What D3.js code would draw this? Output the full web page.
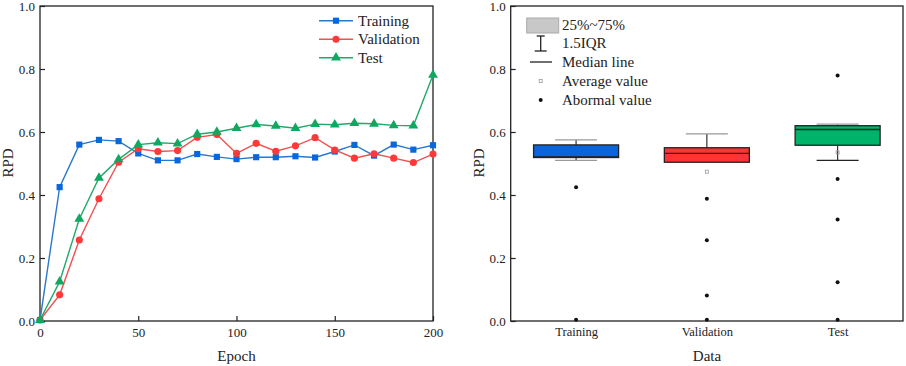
<!DOCTYPE html>
<html>
<head>
  <title>RPD training curves and box plot</title>
  <script src="https://d3js.org/d3.v7.min.js"></script>
  <style>
    body { margin: 0; background: #fff; }
    text { font-family: "Liberation Serif", "Times New Roman", serif; fill: #222; }
  </style>
</head>
<body>
  <svg id="chart"></svg>

  <script>
    // line chart data
    var epochs = [0, 10, 20, 30, 40, 50, 60, 70, 80, 90, 100, 110, 120, 130, 140, 150, 160, 170, 180, 190, 200];
    var training = [0.003, 0.425, 0.56, 0.575, 0.571, 0.532, 0.51, 0.51, 0.53, 0.521, 0.514, 0.52, 0.52, 0.523, 0.519, 0.538, 0.559, 0.525, 0.56, 0.544, 0.558];
    var validation = [0.003, 0.083, 0.257, 0.388, 0.504, 0.547, 0.538, 0.541, 0.583, 0.592, 0.532, 0.564, 0.539, 0.556, 0.582, 0.543, 0.517, 0.531, 0.517, 0.503, 0.53];
    var test = [0.003, 0.125, 0.324, 0.454, 0.513, 0.56, 0.566, 0.563, 0.593, 0.6, 0.612, 0.624, 0.619, 0.612, 0.625, 0.623, 0.628, 0.626, 0.621, 0.62, 0.781];
    var seriesNames = ["Training", "Validation", "Test"];
    var xTicks = [0, 50, 100, 150, 200];
    var yTicks = [0, 0.2, 0.4, 0.6, 0.8, 1.0];

    // box plot data
    var categories = ["Training", "Validation", "Test"];
    var q1s = [0.519, 0.504, 0.558];
    var medians = [0.521, 0.532, 0.608];
    var q3s = [0.559, 0.55, 0.62];
    var whiskerLows = [0.51, 0.504, 0.51];
    var whiskerHighs = [0.575, 0.594, 0.625];
    var means = [0.53, 0.474, 0.535];
    var outliers = [[0.425, 0.004], [0.388, 0.256, 0.081, 0.004], [0.779, 0.451, 0.322, 0.123, 0.004]];
    var legendLabels = ["25%~75%", "1.5IQR", "Median line", "Average value", "Abormal value"];

    var lineColors = ["#2a78cc", "#f0504f", "#1faa6c"];
    var markerColors = ["#0a66dd", "#ff3838", "#0fa860"];
    var boxColors = ["#0a64dc", "#ff3333", "#00b36a"];
    var serif = '"Liberation Serif", "Times New Roman", serif';

    var svg = d3.select("#chart")
      .attr("width", 906)
      .attr("height", 366);

    var yScale = d3.scaleLinear().domain([0, 1]).range([321, 6]);

    function styleAxis(g, size) {
      g.attr("font-family", serif);
      g.select(".domain").remove();
      g.selectAll("line").attr("stroke", "#222").attr("stroke-width", 1.2);
      g.selectAll("text")
        .style("font-family", serif)
        .style("font-size", size)
        .attr("fill", "#222");
    }

    // ---------- left panel ----------
    var xScale = d3.scaleLinear().domain([0, 200]).range([40, 433]);

    var left = svg.append("g");

    left.append("g")
      .attr("transform", "translate(40,0)")
      .call(d3.axisLeft(yScale).tickValues(yTicks).tickSize(-5).tickPadding(5).tickFormat(d3.format(".1f")))
      .call(g => styleAxis(g, "13px"));

    left.append("g")
      .attr("transform", "translate(0,321)")
      .call(d3.axisBottom(xScale).tickValues(xTicks).tickSize(-5).tickPadding(7))
      .call(g => styleAxis(g, "13px"));

    left.append("rect")
      .attr("x", 40).attr("y", 6)
      .attr("width", 393).attr("height", 315)
      .attr("fill", "none")
      .attr("stroke", "#222")
      .attr("stroke-width", 1.3);

    var allSeries = [training, validation, test];
    var symbols = [d3.symbolSquare, d3.symbolCircle, d3.symbolTriangle];
    var symbolSizes = [38, 40, 42];

    var line = d3.line()
      .x((d, i) => xScale(epochs[i]))
      .y(d => yScale(d));

    allSeries.forEach(function(vals, s) {
      left.append("path")
        .datum(vals)
        .attr("fill", "none")
        .attr("stroke", lineColors[s])
        .attr("stroke-width", 1.4)
        .attr("d", line);
    });

    allSeries.forEach(function(vals, s) {
      left.selectAll(".m" + s)
        .data(vals)
        .enter()
        .append("path")
        .attr("class", "m" + s)
        .attr("transform", (d, i) => "translate(" + xScale(epochs[i]) + "," + yScale(d) + ")")
        .attr("d", d3.symbol().type(symbols[s]).size(symbolSizes[s]))
        .attr("fill", markerColors[s]);
    });

    // legend
    seriesNames.forEach(function(name, s) {
      var ly = 20.7 + s * 18.5;
      left.append("line")
        .attr("x1", 319).attr("x2", 353)
        .attr("y1", ly).attr("y2", ly)
        .attr("stroke", lineColors[s])
        .attr("stroke-width", 1.4);
      left.append("path")
        .attr("transform", "translate(336," + ly + ")")
        .attr("d", d3.symbol().type(symbols[s]).size(symbolSizes[s]))
        .attr("fill", markerColors[s]);
      left.append("text")
        .attr("x", 358).attr("y", ly)
        .attr("dy", "0.35em")
        .style("font-size", "15px")
        .text(name);
    });

    left.append("text")
      .attr("x", 236.5).attr("y", 361)
      .attr("text-anchor", "middle")
      .style("font-size", "15px")
      .text("Epoch");

    left.append("text")
      .attr("transform", "translate(13," + 163 + ") rotate(-90)")
      .attr("text-anchor", "middle")
      .style("font-size", "15px")
      .text("RPD");

    // ---------- right panel ----------
    var catScale = d3.scalePoint().domain(categories).range([510.7, 903]).padding(0.5);
    var boxW = 85;
    var capW = 42;

    var right = svg.append("g");

    right.append("g")
      .attr("transform", "translate(510.7,0)")
      .call(d3.axisLeft(yScale).tickValues(yTicks).tickSize(-5).tickPadding(5).tickFormat(d3.format(".1f")))
      .call(g => styleAxis(g, "13px"));

    right.append("g")
      .attr("transform", "translate(0,321)")
      .call(d3.axisBottom(catScale).tickSize(0).tickPadding(6))
      .call(g => styleAxis(g, "12.5px"));

    right.append("rect")
      .attr("x", 510.7).attr("y", 6)
      .attr("width", 392.3).attr("height", 315)
      .attr("fill", "none")
      .attr("stroke", "#222")
      .attr("stroke-width", 1.3);

    categories.forEach(function(cat, i) {
      var cx = catScale(cat);
      // whiskers
      right.append("line")
        .attr("x1", cx).attr("x2", cx)
        .attr("y1", yScale(q3s[i])).attr("y2", yScale(whiskerHighs[i]))
        .attr("stroke", "#333").attr("stroke-width", 1.2);
      right.append("line")
        .attr("x1", cx).attr("x2", cx)
        .attr("y1", yScale(q1s[i])).attr("y2", yScale(whiskerLows[i]))
        .attr("stroke", "#333").attr("stroke-width", 1.2);
      right.append("line")
        .attr("x1", cx - capW / 2).attr("x2", cx + capW / 2)
        .attr("y1", yScale(whiskerHighs[i])).attr("y2", yScale(whiskerHighs[i]))
        .attr("stroke", "#999").attr("stroke-width", 1.4);
      if (whiskerLows[i] < q1s[i]) {
        right.append("line")
          .attr("x1", cx - capW / 2).attr("x2", cx + capW / 2)
          .attr("y1", yScale(whiskerLows[i])).attr("y2", yScale(whiskerLows[i]))
          .attr("stroke", i === 2 ? "#222" : "#999").attr("stroke-width", 1.4);
      }
      // box
      right.append("rect")
        .attr("x", cx - boxW / 2)
        .attr("y", yScale(q3s[i]))
        .attr("width", boxW)
        .attr("height", yScale(q1s[i]) - yScale(q3s[i]))
        .attr("fill", boxColors[i])
        .attr("stroke", "#222")
        .attr("stroke-width", 1.3);
      right.append("line")
        .attr("x1", cx - boxW / 2).attr("x2", cx + boxW / 2)
        .attr("y1", yScale(medians[i])).attr("y2", yScale(medians[i]))
        .attr("stroke", "#222").attr("stroke-width", 1.3);
      // mean
      right.append("rect")
        .attr("x", cx - 1.5).attr("y", yScale(means[i]) - 1.5)
        .attr("width", 3).attr("height", 3)
        .attr("fill", "none")
        .attr("stroke", "#999")
        .attr("stroke-width", 0.8)
        .attr("opacity", i === 0 ? 0 : 1);
      // outliers
      right.selectAll(".o" + i)
        .data(outliers[i])
        .enter()
        .append("circle")
        .attr("class", "o" + i)
        .attr("cx", cx)
        .attr("cy", d => yScale(d))
        .attr("r", 2)
        .attr("fill", "#111");
    });

    // box legend
    var lx = 540.7;
    var tx = 562;
    var rowsY = [25, 43, 62, 81, 100];
    right.append("rect")
      .attr("x", 526.7).attr("y", 18)
      .attr("width", 32).attr("height", 15)
      .attr("fill", "#c8c8c8").attr("stroke", "#aaa");
    right.append("line")
      .attr("x1", lx).attr("x2", lx).attr("y1", 36).attr("y2", 51)
      .attr("stroke", "#222").attr("stroke-width", 1.3);
    right.append("line")
      .attr("x1", lx - 4).attr("x2", lx + 4).attr("y1", 36).attr("y2", 36)
      .attr("stroke", "#222").attr("stroke-width", 1.3);
    right.append("line")
      .attr("x1", lx - 6).attr("x2", lx + 6).attr("y1", 51).attr("y2", 51)
      .attr("stroke", "#222").attr("stroke-width", 1.3);
    right.append("line")
      .attr("x1", 530).attr("x2", 552).attr("y1", 62).attr("y2", 62)
      .attr("stroke", "#222").attr("stroke-width", 1.3);
    right.append("rect")
      .attr("x", lx - 1.5).attr("y", 81 - 1.5)
      .attr("width", 3).attr("height", 3)
      .attr("fill", "none").attr("stroke", "#999").attr("stroke-width", 0.8);
    right.append("circle")
      .attr("cx", lx).attr("cy", 100).attr("r", 2).attr("fill", "#111");

    legendLabels.forEach(function(label, i) {
      right.append("text")
        .attr("x", tx).attr("y", rowsY[i])
        .attr("dy", "0.35em")
        .style("font-size", "15px")
        .text(label);
    });

    right.append("text")
      .attr("x", 707).attr("y", 361)
      .attr("text-anchor", "middle")
      .style("font-size", "15px")
      .text("Data");

    right.append("text")
      .attr("transform", "translate(484," + 163 + ") rotate(-90)")
      .attr("text-anchor", "middle")
      .style("font-size", "15px")
      .text("RPD");
  </script>
</body>
</html>
